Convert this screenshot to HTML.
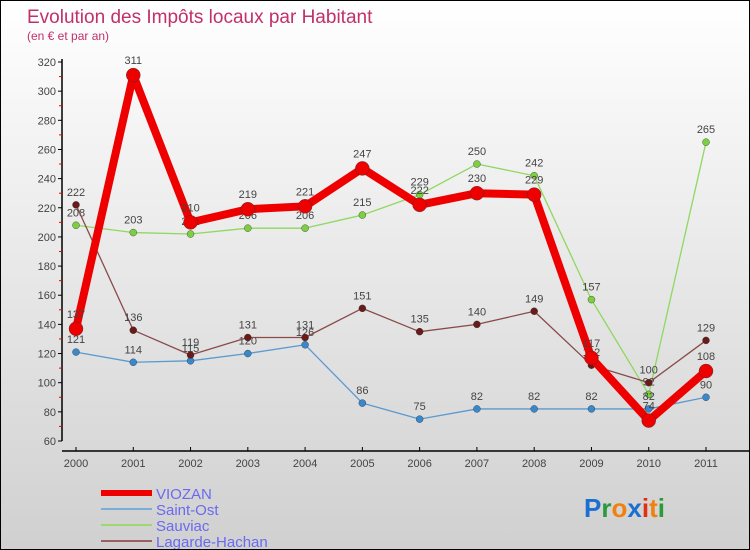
<!DOCTYPE html>
<html><head><meta charset="utf-8"><style>
html,body{margin:0;padding:0}
body{width:750px;height:550px;overflow:hidden;font-family:"Liberation Sans",sans-serif}
#wrap{position:relative;width:748px;height:548px;border:1px solid #000;background:linear-gradient(#ffffff,#d0d0d0)}
</style></head><body>
<div id="wrap">
<svg id="chart" width="748" height="548" style="position:absolute;left:0;top:0">
<text x="26" y="22" font-size="19" fill="#c0306a">Evolution des Impôts locaux par Habitant</text>
<text x="26" y="39" font-size="12" fill="#c0306a">(en € et par an)</text>
<g id="axes"></g>
<g id="series"></g>
<g id="legend"></g>
<text x="583" y="516" font-size="26" font-weight="bold"><tspan fill="#1a6fd0">P</tspan><tspan fill="#2a9a3a">r</tspan><tspan fill="#f08010">o</tspan><tspan fill="#1a6fd0">x</tspan><tspan fill="#e03010">i</tspan><tspan fill="#f08010">t</tspan><tspan fill="#2a9a3a">i</tspan></text>
</svg>
</div>
<script>
const years=["2000","2001","2002","2003","2004","2005","2006","2007","2008","2009","2010","2011"];
const yTicks=[60,80,100,120,140,160,180,200,220,240,260,280,300,320];
const viozan=[137,311,210,219,221,247,222,230,229,117,74,108];
const saintOst=[121,114,115,120,126,86,75,82,82,82,82,90];
const sauviac=[208,203,202,206,206,215,229,250,242,157,92,265];
const lagarde=[222,136,119,131,131,151,135,140,149,112,100,129];
const NS="http://www.w3.org/2000/svg";
function X(i){return 75+i*(705-75)/11;}
function Y(v){return 440-(v-60)*(440-61)/260;}
function mk(tag,attrs,parent,txt){const e=document.createElementNS(NS,tag);for(const k in attrs)e.setAttribute(k,attrs[k]);if(txt!==undefined)e.textContent=txt;parent.appendChild(e);return e;}
const axes=document.getElementById('axes');
let e=mk('line',{x1:61,y1:58,x2:61,y2:440,stroke:'#000','stroke-width':1.5},axes);


e=mk('line',{x1:61,y1:450,x2:748,y2:450,stroke:'#000','stroke-width':1.5},axes);


yTicks.forEach((t,i)=>{
 mk('line',{x1:57,y1:Y(t),x2:61,y2:Y(t),stroke:'#000'},axes);
 if(i<yTicks.length-1) mk('line',{x1:58,y1:Y(t+10),x2:61,y2:Y(t+10),stroke:'#e00'},axes);
 const l=mk('text',{x:55,y:Y(t)+4,'font-size':11,fill:'#444','text-anchor':'end'},axes,t);
 
 
});
years.forEach((y,i)=>{
 mk('line',{x1:X(i),y1:446,x2:X(i),y2:450,stroke:'#000'},axes);
 const l=mk('text',{x:X(i),y:466,'font-size':11,fill:'#444','text-anchor':'middle'},axes,y);
 
 
});
const series=[
 {name:'sauviac',data:sauviac,color:'#8fd860',w:1.3,r:3.5,fill:'#7cd040'},
 {name:'saint-ost',data:saintOst,color:'#5a9ad0',w:1.3,r:3.5,fill:'#3a88cc'},
 {name:'lagarde-hachan',data:lagarde,color:'#8a4a4a',w:1.3,r:3.5,fill:'#6a1a1a'},
 {name:'viozan',data:viozan,color:'#ee0000',w:8,r:7,fill:'#ee0000'}
];
const sg=document.getElementById('series');
series.forEach(s=>{
 const g=mk('g',{},sg);
 
 
 const p=mk('polyline',{points:s.data.map((v,i)=>X(i)+','+Y(v)).join(' '),fill:'none',stroke:s.color,'stroke-width':s.w,'stroke-linejoin':'round'},g);
 
 
 s.data.forEach((v,i)=>{
  const c=mk('circle',{cx:X(i),cy:Y(v),r:s.r,fill:s.fill,stroke:'#333','stroke-width':0.4},g);
  
  
  const t=mk('text',{x:X(i),y:Y(v)-9-(s.w>2?2:0),'font-size':11,fill:'#444','text-anchor':'middle'},g,v);
  
  
 });
});
const lg=document.getElementById('legend');
const leg=[['VIOZAN','#ee0000',6],['Saint-Ost','#7aaed8',2],['Sauviac','#9cd870',2],['Lagarde-Hachan','#9a6060',2]];
leg.forEach((l,i)=>{
 const y=492+i*16;
 const g=mk('g',{},lg);
 
 
 mk('line',{x1:100,y1:y,x2:151,y2:y,stroke:l[1],'stroke-width':l[2]},g);
 mk('text',{x:155,y:y+6,'font-size':15,fill:'#6a6af0'},g,l[0]);
});
</script>
</body></html>
